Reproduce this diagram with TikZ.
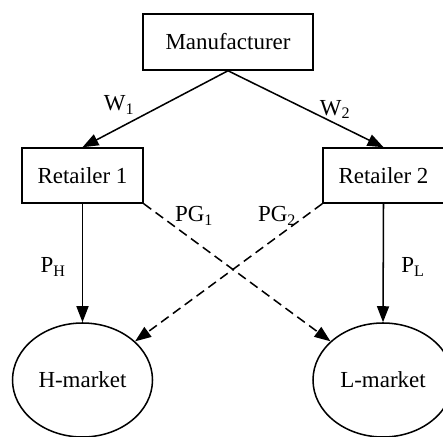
\documentclass[tikz,border=0pt]{standalone}
\usepackage{fontspec}
\setmainfont{Liberation Serif}
\usetikzlibrary{arrows.meta,shapes.geometric}

\begin{document}
\begin{tikzpicture}[
  font=\fontsize{19.6}{23}\selectfont,
  line width=1.3pt,
  firm/.style={draw,rectangle,inner sep=0pt},
  market/.style={draw,ellipse,minimum width=4.2cm,minimum height=3.42cm,inner sep=0pt},
  flow/.style={-{Triangle[length=4.8mm,width=3.6mm]}},
  gray market/.style={flow,dash pattern=on 2.8mm off 1.6mm}]
% ---------------- frame ----------------
\useasboundingbox (0,0) rectangle (13.29,13.08);
\clip (0,0) rectangle (13.29,13.08);

% ---------------- players ----------------
\node[firm,minimum width=5.1cm,minimum height=1.68cm] (mf) at (6.84,11.82) {Manufacturer};
\node[firm,minimum width=3.63cm,minimum height=1.65cm] (r1) at (2.475,7.815) {Retailer 1};
\node[firm,minimum width=3.63cm,minimum height=1.65cm] (r2) at (11.505,7.815) {Retailer 2};
\node[market] (hm) at (2.475,1.68) {H-market};
\node[market] (lm) at (11.49,1.68) {L-market};

% ---------------- channels ----------------
\draw[flow] (mf.south) -- (r1.north);
\draw[flow] (mf.south) -- (r2.north);
\draw[flow] (r1.south) -- (hm.north);
\draw[flow] (r2.south) -- (lm.north);
\draw[gray market] (r1.south east) -- (lm);
\draw[gray market] (r2.south west) -- (hm);

% ---------------- prices ----------------
\node (w1) at (3.57,9.93) {W\textsubscript{1}};
\node (w2) at (10.05,9.8) {W\textsubscript{2}};
\node (pg1) at (5.82,6.6) {PG\textsubscript{1}};
\node (pg2) at (8.31,6.6) {PG\textsubscript{2}};
\node (ph) at (1.59,5.07) {P\textsubscript{H}};
\node (pl) at (12.39,5.07) {P\textsubscript{L}};
\end{tikzpicture}
\end{document}
